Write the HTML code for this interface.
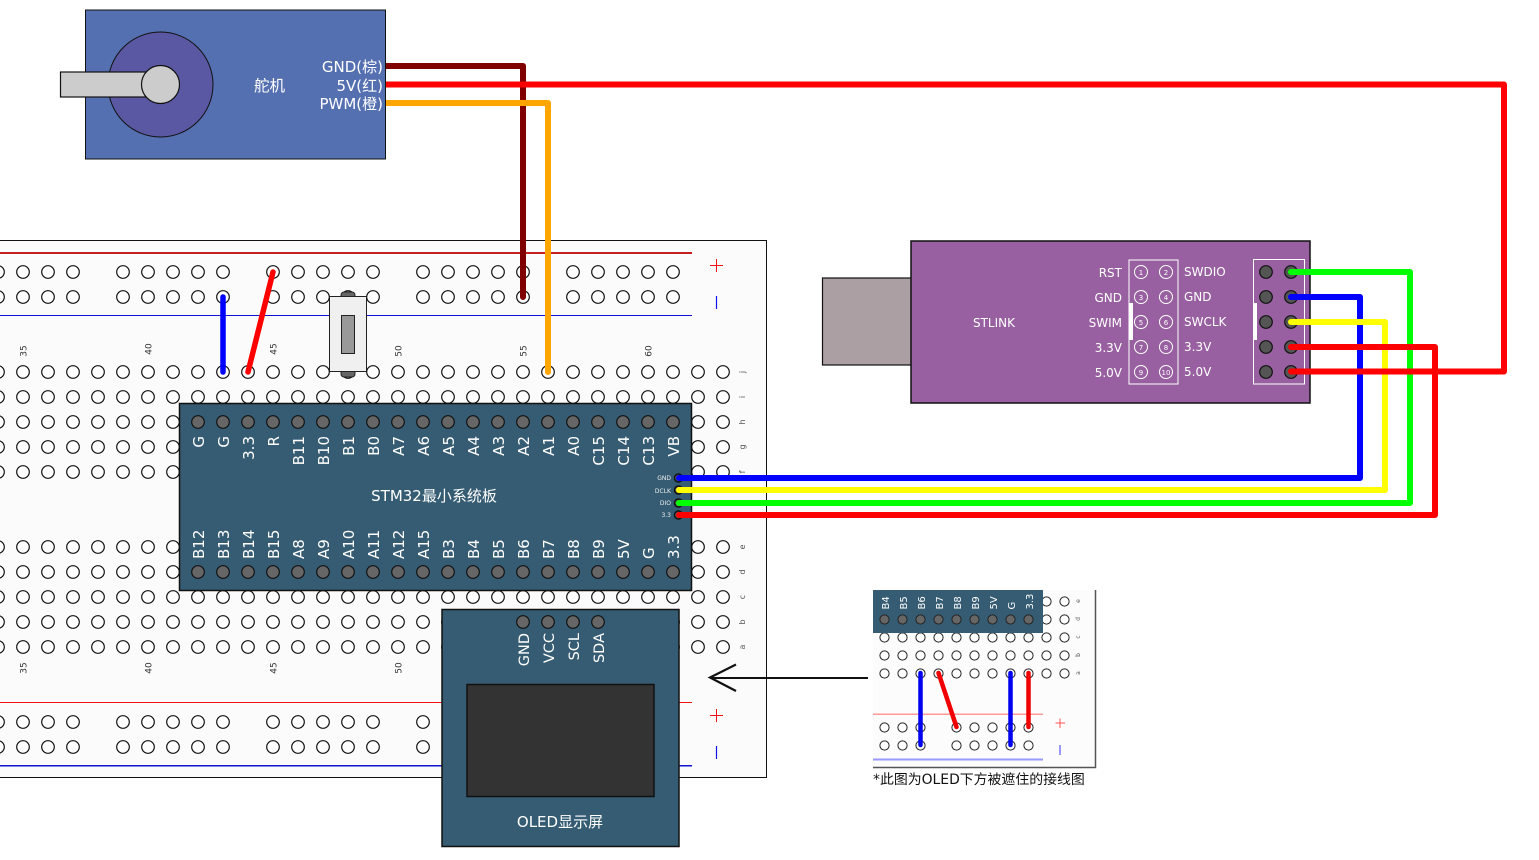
<!DOCTYPE html>
<html><head><meta charset="utf-8"><style>
html,body{margin:0;padding:0;background:#fff;overflow:hidden}
svg{display:block}
text{font-family:"DejaVu Sans","Noto Sans CJK SC",sans-serif}
</style></head><body>
<svg width="1539" height="860" viewBox="0 0 1539 860" xmlns="http://www.w3.org/2000/svg">
<defs>
<pattern id="h" patternUnits="userSpaceOnUse" x="-14.5" y="9.5" width="25" height="25"><circle cx="12.5" cy="12.5" r="6.3" fill="#fff" stroke="#111" stroke-width="1.2"/></pattern>
<pattern id="p" patternUnits="userSpaceOnUse" x="-14.5" y="9.5" width="25" height="25"><circle cx="12.5" cy="12.5" r="6.3" fill="#666" stroke="#111" stroke-width="1.2"/></pattern>
<pattern id="sh" patternUnits="userSpaceOnUse" x="875.5" y="610.5" width="18" height="18"><circle cx="9" cy="9" r="4.6" fill="#fff" stroke="#222" stroke-width="1"/></pattern>
<pattern id="sp" patternUnits="userSpaceOnUse" x="875.5" y="610.5" width="18" height="18"><circle cx="9" cy="9" r="4.6" fill="#666" stroke="#222" stroke-width="1"/></pattern>
</defs>

<!-- Breadboard -->
<rect x="-5" y="240.5" width="771.5" height="537" fill="#fbfbfb" stroke="#111" stroke-width="1"/>
<rect x="0" y="252" width="692" height="2" fill="#c42020"/>
<rect x="0" y="315" width="692" height="1" fill="#1212d0"/>
<rect x="0" y="702" width="692" height="1" fill="#f01010"/>
<rect x="0" y="765" width="692" height="1.5" fill="#1212d0"/>
<g fill="url(#h)">
<rect x="-14.5" y="259.5" width="100" height="50"/><rect x="110.5" y="259.5" width="125" height="50"/><rect x="260.5" y="259.5" width="125" height="50"/><rect x="410.5" y="259.5" width="125" height="50"/><rect x="560.5" y="259.5" width="125" height="50"/>
<rect x="-14.5" y="359.5" width="750" height="125"/><rect x="-14.5" y="534.5" width="750" height="125"/>
<rect x="-14.5" y="709.5" width="100" height="50"/><rect x="110.5" y="709.5" width="125" height="50"/><rect x="260.5" y="709.5" width="125" height="50"/><rect x="410.5" y="709.5" width="25" height="50"/>
</g>
<g font-size="9" fill="#333" text-anchor="middle">
<text transform="translate(26.500,351) rotate(-90)">35</text><text transform="translate(151.500,349) rotate(-90)">40</text><text transform="translate(276.500,349) rotate(-90)">45</text><text transform="translate(401.500,351) rotate(-90)">50</text><text transform="translate(526.500,351) rotate(-90)">55</text><text transform="translate(651.500,351) rotate(-90)">60</text>
<text transform="translate(26.500,668) rotate(-90)">35</text><text transform="translate(151.500,668) rotate(-90)">40</text><text transform="translate(276.500,668) rotate(-90)">45</text><text transform="translate(401.500,668) rotate(-90)">50</text>
<g font-size="8" fill="#555">
<text transform="translate(745,372) rotate(-90)">j</text><text transform="translate(745,397) rotate(-90)">i</text><text transform="translate(745,422) rotate(-90)">h</text><text transform="translate(745,447) rotate(-90)">g</text><text transform="translate(745,472) rotate(-90)">f</text>
<text transform="translate(745,547) rotate(-90)">e</text><text transform="translate(745,572) rotate(-90)">d</text><text transform="translate(745,597) rotate(-90)">c</text><text transform="translate(745,622) rotate(-90)">b</text><text transform="translate(745,647) rotate(-90)">a</text>
</g>
</g>
<path d="M710 265.500h13M716.500 259v13M710 715.500h13M716.500 709v13" stroke="#f01010" stroke-width="1" fill="none"/>
<path d="M716.500 296v13M716.500 746v13" stroke="#1010f0" stroke-width="1.200" fill="none"/>

<!-- Switch -->
<rect x="341" y="292" width="14" height="8" rx="3" fill="#666" stroke="#222"/>
<rect x="341" y="368" width="14" height="9" rx="3" fill="#666" stroke="#222"/>
<rect x="329.500" y="296.500" width="37" height="75" fill="#f0f0f0" stroke="#222"/>
<rect x="341.500" y="315.500" width="13" height="38" fill="#999" stroke="#222"/>

<!-- Board jumpers -->
<path d="M223 297V372" stroke="#0000ff" stroke-width="5.500" stroke-linecap="round" fill="none"/>
<path d="M273 272L248 372" stroke="#ff0000" stroke-width="5.500" stroke-linecap="round" fill="none"/>

<!-- STM32 -->
<rect x="179.500" y="403.500" width="512" height="187" fill="#355c73" stroke="#111" stroke-width="1.500"/>
<rect x="185.500" y="409.500" width="500" height="25" fill="url(#p)"/>
<rect x="185.500" y="559.500" width="500" height="25" fill="url(#p)"/>
<g font-size="15" fill="#fff" text-anchor="end">
<text transform="translate(204,436) rotate(-90)">G</text><text transform="translate(229,436) rotate(-90)">G</text><text transform="translate(254,436) rotate(-90)">3.3</text><text transform="translate(279,436) rotate(-90)">R</text><text transform="translate(304,436) rotate(-90)">B11</text><text transform="translate(329,436) rotate(-90)">B10</text><text transform="translate(354,436) rotate(-90)">B1</text><text transform="translate(379,436) rotate(-90)">B0</text><text transform="translate(404,436) rotate(-90)">A7</text><text transform="translate(429,436) rotate(-90)">A6</text><text transform="translate(454,436) rotate(-90)">A5</text><text transform="translate(479,436) rotate(-90)">A4</text><text transform="translate(504,436) rotate(-90)">A3</text><text transform="translate(529,436) rotate(-90)">A2</text><text transform="translate(554,436) rotate(-90)">A1</text><text transform="translate(579,436) rotate(-90)">A0</text><text transform="translate(604,436) rotate(-90)">C15</text><text transform="translate(629,436) rotate(-90)">C14</text><text transform="translate(654,436) rotate(-90)">C13</text><text transform="translate(679,436) rotate(-90)">VB</text>
</g>
<g font-size="15" fill="#fff">
<text transform="translate(204,559) rotate(-90)">B12</text><text transform="translate(229,559) rotate(-90)">B13</text><text transform="translate(254,559) rotate(-90)">B14</text><text transform="translate(279,559) rotate(-90)">B15</text><text transform="translate(304,559) rotate(-90)">A8</text><text transform="translate(329,559) rotate(-90)">A9</text><text transform="translate(354,559) rotate(-90)">A10</text><text transform="translate(379,559) rotate(-90)">A11</text><text transform="translate(404,559) rotate(-90)">A12</text><text transform="translate(429,559) rotate(-90)">A15</text><text transform="translate(454,559) rotate(-90)">B3</text><text transform="translate(479,559) rotate(-90)">B4</text><text transform="translate(504,559) rotate(-90)">B5</text><text transform="translate(529,559) rotate(-90)">B6</text><text transform="translate(554,559) rotate(-90)">B7</text><text transform="translate(579,559) rotate(-90)">B8</text><text transform="translate(604,559) rotate(-90)">B9</text><text transform="translate(629,559) rotate(-90)">5V</text><text transform="translate(654,559) rotate(-90)">G</text><text transform="translate(679,559) rotate(-90)">3.3</text>
</g>
<text x="434" y="501" font-size="15" fill="#fff" text-anchor="middle">STM32最小系统板</text>
<g font-size="6" fill="#eee" text-anchor="end">
<text x="671" y="480">GND</text><text x="671" y="493">DCLK</text><text x="671" y="505">DIO</text><text x="671" y="517">3.3</text>
</g>
<g fill="#666" stroke="#111" stroke-width="1.500"><circle cx="678.500" cy="478" r="4"/><circle cx="678.500" cy="490" r="4"/><circle cx="678.500" cy="503" r="4"/><circle cx="678.500" cy="515" r="4"/></g>

<!-- OLED -->
<rect x="442" y="609.500" width="237" height="237" fill="#355c73" stroke="#111" stroke-width="1.500"/>
<rect x="467" y="684.500" width="187" height="112" fill="#333" stroke="#111" stroke-width="1.500"/>
<rect x="510.500" y="609.500" width="100" height="25" fill="url(#p)"/>
<g font-size="14.500" fill="#fff" text-anchor="end"><text transform="translate(529,633) rotate(-90)">GND</text><text transform="translate(554,633) rotate(-90)">VCC</text><text transform="translate(579,633) rotate(-90)">SCL</text><text transform="translate(604,633) rotate(-90)">SDA</text></g>
<text x="560" y="827" font-size="15" fill="#fff" text-anchor="middle">OLED显示屏</text>

<!-- STLINK -->
<rect x="822.500" y="278" width="89" height="87" fill="#ac9fa3" stroke="#111" stroke-width="1.200"/>
<rect x="911" y="241" width="399" height="162" fill="#9860a0" stroke="#111" stroke-width="1.500"/>
<text x="994" y="327" font-size="12" fill="#fff" text-anchor="middle">STLINK</text>
<rect x="1129" y="260" width="49" height="124" fill="none" stroke="#fff" stroke-width="1"/>
<rect x="1129" y="303" width="4" height="37" fill="#fff"/>
<rect x="1253.500" y="259.500" width="51" height="124.500" fill="none" stroke="#fff" stroke-width="1"/>
<rect x="1253" y="303" width="4" height="37" fill="#fff"/>
<g fill="none" stroke="#fff" stroke-width="1"><circle cx="1141" cy="272" r="6.500"/><circle cx="1166" cy="272" r="6.500"/><circle cx="1141" cy="297" r="6.500"/><circle cx="1166" cy="297" r="6.500"/><circle cx="1141" cy="322" r="6.500"/><circle cx="1166" cy="322" r="6.500"/><circle cx="1141" cy="347" r="6.500"/><circle cx="1166" cy="347" r="6.500"/><circle cx="1141" cy="372" r="6.500"/><circle cx="1166" cy="372" r="6.500"/></g>
<g font-size="7" fill="#fff" text-anchor="middle"><text x="1141" y="275">1</text><text x="1166" y="275">2</text><text x="1141" y="300">3</text><text x="1166" y="300">4</text><text x="1141" y="325">5</text><text x="1166" y="325">6</text><text x="1141" y="350">7</text><text x="1166" y="350">8</text><text x="1141" y="375">9</text><text x="1166" y="375">10</text></g>
<g font-size="12" fill="#fff" text-anchor="end"><text x="1122" y="277">RST</text><text x="1122" y="302">GND</text><text x="1122" y="327">SWIM</text><text x="1122" y="352">3.3V</text><text x="1122" y="377">5.0V</text></g>
<g font-size="12" fill="#fff"><text x="1184" y="276">SWDIO</text><text x="1184" y="301">GND</text><text x="1184" y="326">SWCLK</text><text x="1184" y="351">3.3V</text><text x="1184" y="376">5.0V</text></g>
<g fill="#555" stroke="#111" stroke-width="1.200"><circle cx="1266" cy="272" r="6.300"/><circle cx="1291" cy="272" r="6.300"/><circle cx="1266" cy="297" r="6.300"/><circle cx="1291" cy="297" r="6.300"/><circle cx="1266" cy="322" r="6.300"/><circle cx="1291" cy="322" r="6.300"/><circle cx="1266" cy="347" r="6.300"/><circle cx="1291" cy="347" r="6.300"/><circle cx="1266" cy="372" r="6.300"/><circle cx="1291" cy="372" r="6.300"/></g>

<!-- Long wires -->
<g fill="none" stroke-width="6" stroke-linecap="round" stroke-linejoin="round">
<path d="M385 66H523V297" stroke="#800000"/>
<path d="M385 103H548V372" stroke="#ffa500"/>
<path d="M1291 297H1360V478H679" stroke="#0000ff"/>
<path d="M1291 322H1385V490H679" stroke="#ffff00"/>
<path d="M1291 272H1410V503H679" stroke="#00ff00"/>
<path d="M1291 347H1435V515H679" stroke="#ff0000"/>
<path d="M1291 371.500H1504V84.500H385" stroke="#ff0000"/>
</g>

<!-- Servo (drawn above the wire ends so they start flush at its edge) -->
<rect x="85.500" y="10" width="300" height="149" fill="#5570b0" stroke="#111"/>
<circle cx="160.500" cy="84.500" r="52.500" fill="#5a58a3" stroke="#111"/>
<rect x="60.500" y="72" width="90" height="25" fill="#ccc" stroke="#111" stroke-width="1.200"/>
<circle cx="160.500" cy="84.500" r="19" fill="#ccc" stroke="#111" stroke-width="1.200"/>
<text x="269.500" y="91" font-size="15.500" fill="#fff" text-anchor="middle">舵机</text>
<g font-size="15" fill="#fff" text-anchor="end"><text x="383" y="72">GND(棕)</text><text x="383" y="91">5V(红)</text><text x="383" y="109">PWM(橙)</text></g>

<!-- Arrow -->
<path d="M868 678H711" stroke="#111" stroke-width="2" fill="none"/>
<path d="M736 664.500L710 677.500L736 691" stroke="#111" stroke-width="2.200" fill="none"/>

<!-- Inset -->
<rect x="873" y="590" width="222" height="177" fill="#fcfcfc"/>
<path d="M1095.500 590V767.500H873" stroke="#555" stroke-width="1.500" fill="none"/>
<rect x="873" y="713.500" width="170" height="1.500" fill="#f99"/>
<rect x="873" y="758.500" width="170" height="2" fill="#99f"/>
<rect x="875.500" y="628.500" width="198" height="54" fill="url(#sh)"/>
<rect x="1037.500" y="592.500" width="36" height="36" fill="url(#sh)"/>
<rect x="875.500" y="718.500" width="54" height="36" fill="url(#sh)"/>
<rect x="947.500" y="718.500" width="90" height="36" fill="url(#sh)"/>
<rect x="873" y="590" width="170" height="43" fill="#355c73"/>
<rect x="875.500" y="610.500" width="162" height="18" fill="url(#sp)"/>
<g font-size="10" fill="#fff"><text transform="translate(889,609.500) rotate(-90)">B4</text><text transform="translate(907,609.500) rotate(-90)">B5</text><text transform="translate(925,609.500) rotate(-90)">B6</text><text transform="translate(943,609.500) rotate(-90)">B7</text><text transform="translate(961,609.500) rotate(-90)">B8</text><text transform="translate(979,609.500) rotate(-90)">B9</text><text transform="translate(997,609.500) rotate(-90)">5V</text><text transform="translate(1015,609.500) rotate(-90)">G</text><text transform="translate(1033,609.500) rotate(-90)">3.3</text></g>
<g font-size="6" fill="#555" text-anchor="middle"><text transform="translate(1080,601) rotate(-90)">e</text><text transform="translate(1080,619) rotate(-90)">d</text><text transform="translate(1080,637) rotate(-90)">c</text><text transform="translate(1080,655) rotate(-90)">b</text><text transform="translate(1080,673) rotate(-90)">a</text></g>
<path d="M1055.500 723h9.500M1060 718.500v9.500" stroke="#f55" stroke-width="1" fill="none"/>
<path d="M1060 745v10" stroke="#55f" stroke-width="1.200" fill="none"/>
<g fill="none" stroke-width="4.500" stroke-linecap="round">
<path d="M920.500 673V745M1010.500 673V745" stroke="#0000f0"/>
<path d="M938.500 673L956.500 727M1028.500 673V727" stroke="#f00000"/>
</g>
<text x="873" y="784" font-size="13.900" fill="#111">*此图为OLED下方被遮住的接线图</text>
</svg>
</body></html>
